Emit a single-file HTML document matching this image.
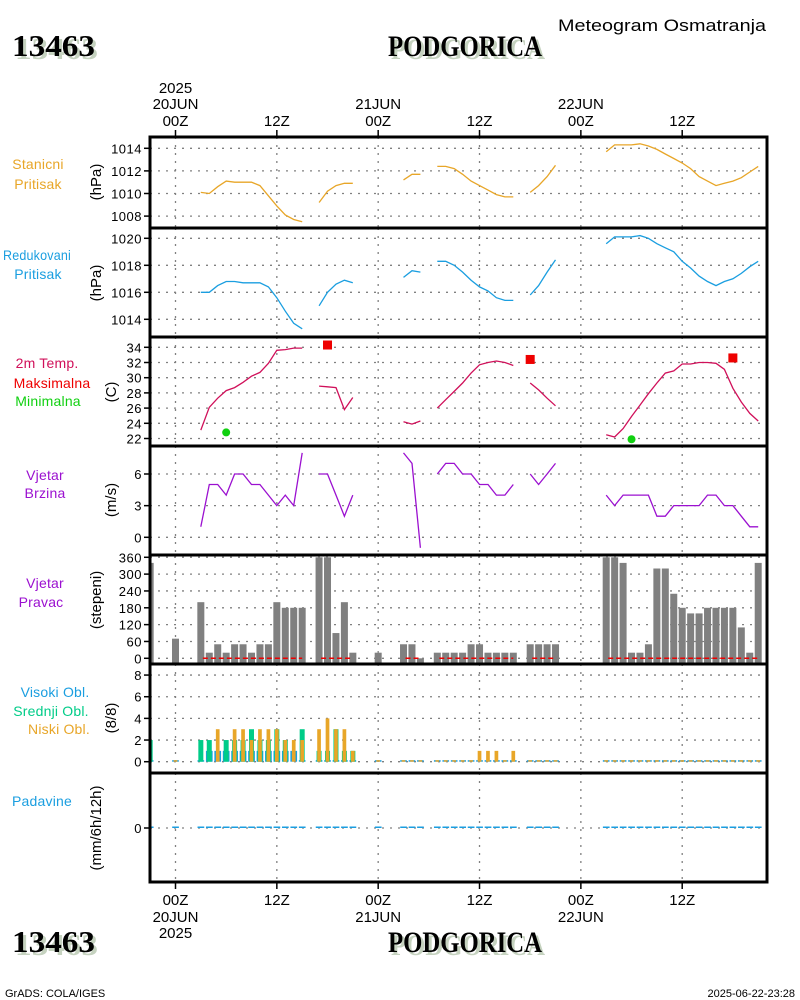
<!DOCTYPE html>
<html><head><meta charset="utf-8"><style>
html,body{margin:0;padding:0;background:#fff;}
svg{display:block;font-family:"Liberation Sans",sans-serif;}
</style></head><body>
<svg id="chart" width="800" height="1000" viewBox="0 0 800 1000" xmlns="http://www.w3.org/2000/svg"></svg>
<script>
// ---- data ----
const hours = [-3,0,3,4,5,6,7,8,9,10,11,12,13,14,15,17,18,19,20,21,24,27,28,29,31,32,33,34,35,36,37,38,39,40,42,43,44,45,51,52,53,54,55,56,57,58,59,60,61,62,63,64,65,66,67,68,69];
const stationP = [null,null,1010.1,1010.0,1010.6,1011.1,1011.0,1011.0,1011.0,1010.7,1009.8,1008.9,1008.1,1007.7,1007.5,1009.2,1010.2,1010.7,1010.9,1010.9,null,1011.2,1011.7,1011.7,1012.4,1012.4,1012.2,1011.7,1011.1,1010.7,1010.3,1009.9,1009.7,1009.7,1010.1,1010.7,1011.5,1012.5,1013.7,1014.3,1014.3,1014.3,1014.4,1014.2,1013.9,1013.5,1013.1,1012.7,1012.2,1011.5,1011.1,1010.7,1010.9,1011.1,1011.4,1011.9,1012.4];
const reducedP = [null,null,1016.0,1016.0,1016.5,1016.8,1016.8,1016.7,1016.7,1016.7,1016.4,1015.6,1014.6,1013.7,1013.3,1015.0,1016.0,1016.6,1016.9,1016.7,null,1017.1,1017.6,1017.5,1018.3,1018.3,1018.0,1017.5,1016.9,1016.4,1016.1,1015.6,1015.4,1015.4,1015.8,1016.5,1017.5,1018.4,1019.6,1020.1,1020.1,1020.1,1020.2,1020.0,1019.6,1019.3,1019.0,1018.3,1017.8,1017.2,1016.8,1016.5,1016.8,1017.0,1017.4,1017.9,1018.3];
const temp = [null,null,23.1,26.1,27.3,28.3,28.7,29.4,30.2,30.7,31.9,33.6,33.7,33.9,33.9,28.9,28.8,28.7,25.8,27.4,null,24.2,23.9,24.3,26.0,27.1,28.2,29.3,30.6,31.7,32.0,32.2,32.0,31.6,29.3,28.4,27.3,26.3,22.5,22.2,23.3,24.9,26.4,27.9,29.3,30.6,30.9,31.8,31.8,32.0,32.0,31.9,31.1,28.6,26.8,25.3,24.3];
const maxHours = [18,42,66];
const maxVals = [34.3,32.4,32.6];
const minHours = [6,54];
const minVals = [22.8,21.9];
const windSpd = [null,null,1,5,5,4,6,6,5,5,4,3,4,3,8,6,6,4,2,4,null,8,7,-1,6,7,7,6,6,5,5,4,4,5,6,5,6,7,4,3,4,4,4,4,2,2,3,3,3,3,4,4,3,3,2,1,1];
const windDir = [340,70,200,20,50,20,50,50,20,50,50,200,180,180,180,360,360,90,200,20,20,50,50,0,20,20,20,20,50,50,20,20,20,20,50,50,50,50,360,360,340,20,20,50,320,320,230,180,160,160,180,180,180,180,110,20,340];
const cloudHigh = [0,0,0,1,1,1,1,1,1,1,1,1,1,1,0,0,0,0,0,0,0,0,0,0,0,0,0,0,0,0,0,0,0,0,0,0,0,0,0,0,0,0,0,0,0,0,0,0,0,0,0,0,0,0,0,0,0];
const cloudMid = [2,0,2,2,0,2,2,2,3,2,2,3,2,0,3,1,1,3,1,1,0,0,0,0,0,0,0,0,0,0,0,0,0,0,0,0,0,0,0,0,0,0,0,0,0,0,0,0,0,0,0,0,0,0,0,0,0];
const cloudLow = [0,0,0,0,3,0,3,3,2,3,3,3,2,2,2,3,4,3,3,1,0,0,0,0,0,0,0,0,0,1,1,1,0,1,0,0,0,0,0,0,0,0,0,0,0,0,0,0,0,0,0,0,0,0,0,0,0];
const precip = [0,0,0,0,0,0,0,0,0,0,0,0,0,0,0,0,0,0,0,0,0,0,0,0,0,0,0,0,0,0,0,0,0,0,0,0,0,0,0,0,0,0,0,0,0,0,0,0,0,0,0,0,0,0,0,0,0];
const ticksP1 = [1008,1010,1012,1014];
const ticksP2 = [1014,1016,1018,1020];
const ticksT = [22,24,26,28,30,32,34];
const ticksW = [0,3,6];
const ticksD = [0,60,120,180,240,300,360];
const ticksC = [0,2,4,6,8];
const ticksR = [0];
const timeTicks = [0,12,24,36,48,60];
const timeLabels = ["00Z","12Z","00Z","12Z","00Z","12Z"];
const dayLabels = ["20JUN","","21JUN","","22JUN",""];

// ---- scales ----
const L=150,R=767;
const x = t => 175.5 + t*8.445;
const P = {
 p1:{top:137,bot:228,y:v=>148.3+(1014-v)*11.3},
 p2:{top:228,bot:337,y:v=>238.3+(1020-v)*13.5},
 t:{top:337,bot:446,y:v=>347.3+(34-v)*7.6},
 w:{top:446,bot:555,y:v=>537.3-v*10.55},
 d:{top:555,bot:664,y:v=>658.3-v*0.2806},
 c:{top:664,bot:773,y:v=>761.7-v*10.83},
 r:{top:773,bot:882,y:v=>828-v*20}
};
const NS="http://www.w3.org/2000/svg";
const svg=document.getElementById('chart');
function el(tag,attrs,parent){const e=document.createElementNS(NS,tag);for(const k in attrs)e.setAttribute(k,attrs[k]);(parent||svg).appendChild(e);return e;}
function txt(s,xx,yy,attrs,parent){const e=el('text',Object.assign({x:xx,y:yy},attrs),parent);e.textContent=s;return e;}

const defs=el('defs',{});
for(const k in P){const cp=el('clipPath',{id:'clip-'+k},defs);el('rect',{x:L,y:P[k].top,width:R-L,height:P[k].bot-P[k].top},cp);}

function panelAxis(key,ticks,name){
  const p=P[key];
  const g=el('g',{});
  
  
  ticks.forEach(v=>{
    const yy=p.y(v);
    el('line',{x1:L,x2:R,y1:yy,y2:yy,stroke:'#808080','stroke-width':1.3,'stroke-dasharray':'2,6'},g);
    el('line',{x1:L-6,x2:L,y1:yy,y2:yy,stroke:'#000','stroke-width':1.5},g);
    const t=txt(String(v),L-8,yy+5,{'text-anchor':'end','font-size':13,fill:'#000','letter-spacing':'0.5'},g);
    
    
  });
  timeTicks.forEach(tt=>{
    el('line',{x1:x(tt),x2:x(tt),y1:p.top,y2:p.bot,stroke:'#808080','stroke-width':1.3,'stroke-dasharray':'2,6'},g);
  });
}
panelAxis('p1',ticksP1,'station-pressure');
panelAxis('p2',ticksP2,'reduced-pressure');
panelAxis('t',ticksT,'temperature');
panelAxis('w',ticksW,'wind-speed');
panelAxis('d',ticksD,'wind-direction');
panelAxis('c',ticksC,'cloud-cover');
panelAxis('r',ticksR,'precipitation');

function series(key,vals,color,name){
  const p=P[key];
  const g=el('g',{'clip-path':'url(#clip-'+key+')'});
  
  
  let seg=[];
  const flush=()=>{ if(seg.length>1){ el('polyline',{points:seg.join(' '),fill:'none',stroke:color,'stroke-width':1.3},g);} seg=[]; };
  for(let i=0;i<hours.length;i++){
    if(vals[i]==null){flush();continue;}
    if(i>0 && seg.length && hours[i]-hours[i-1]!==1) flush();
    seg.push(x(hours[i]).toFixed(1)+','+p.y(vals[i]).toFixed(1));
  }
  flush();
}
series('p1',stationP,'#e8a628','station-pressure-line');
series('p2',reducedP,'#1a9ee0','reduced-pressure-line');
series('t',temp,'#d0105a','temperature-line');
series('w',windSpd,'#9b10d0','wind-speed-line');

maxHours.forEach((h,i)=>{
  const r=el('rect',{x:x(h)-4.5,y:P.t.y(maxVals[i])-4.5,width:9,height:9,fill:'#ee0000'});
  
  
});
minHours.forEach((h,i)=>{
  const c=el('circle',{cx:x(h),cy:P.t.y(minVals[i]),r:4,fill:'#10d010'});
  
  
});

const gd=el('g',{'clip-path':'url(#clip-d)'});


hours.forEach((h,i)=>{
  const yy=P.d.y(windDir[i]);
  const b=el('rect',{x:x(h)-3.5,y:yy,width:7,height:P.d.bot-yy,fill:'#808080'},gd);
  
  
});
(function(){
  let seg=[];
  const flush=()=>{ if(seg.length>1){ el('line',{x1:x(seg[0])+2,x2:x(seg[seg.length-1]),y1:P.d.y(0),y2:P.d.y(0),stroke:'#ee0000','stroke-width':1.5,'stroke-dasharray':'5,3'},gd);} seg=[]; };
  for(let i=0;i<hours.length;i++){
    if(windSpd[i]==null){flush();continue;}
    if(seg.length && hours[i]-seg[seg.length-1]!==1) flush();
    seg.push(hours[i]);
  }
  flush();
})();

const gc=el('g',{'clip-path':'url(#clip-c)'});


function cbar(h,v,w,color,name){
  const y0=P.c.y(0);
  const hh=v>0? y0-P.c.y(v) : 1.5;
  const b=el('rect',{x:x(h)-w/2,y:y0-hh,width:w,height:hh,fill:color},gc);
  
  
}
hours.forEach((h,i)=>{
  cbar(h,cloudHigh[i],6.7,'#1a9ee0','high-cloud-bar');
  if(cloudMid[i]>0) cbar(h,cloudMid[i],5,'#00cc88','mid-cloud-bar');
  if(cloudLow[i]>0 || cloudMid[i]===0) cbar(h,cloudLow[i],3.7,'#e8a628','low-cloud-bar');
});
const gr=el('g',{'clip-path':'url(#clip-r)'});


hours.forEach((h,i)=>{
  const y0=P.r.y(0);
  const hh=precip[i]>0? y0-P.r.y(precip[i]):1.5;
  const b=el('rect',{x:x(h)-3.3,y:y0-hh,width:6.7,height:hh,fill:'#1a9ee0'},gr);
  
  
});

[228,337,446,555,664,773].forEach(yy=>el('line',{x1:L,x2:R,y1:yy,y2:yy,stroke:'#000','stroke-width':3}));
const fr=el('rect',{x:L,y:137,width:R-L,height:882-137,fill:'none',stroke:'#000','stroke-width':3});



timeTicks.forEach((tt,i)=>{
  el('line',{x1:x(tt),x2:x(tt),y1:130,y2:137,stroke:'#000','stroke-width':1.5});
  el('line',{x1:x(tt),x2:x(tt),y1:882,y2:889,stroke:'#000','stroke-width':1.5});
  const a=txt(timeLabels[i],x(tt),126,{'text-anchor':'middle','font-size':15,fill:'#000'});
  
  
  const b=txt(timeLabels[i],x(tt),905,{'text-anchor':'middle','font-size':15,fill:'#000'});
  
  
  if(dayLabels[i]){
    const c=txt(dayLabels[i],x(tt),109,{'text-anchor':'middle','font-size':15,fill:'#000'});
    
    
    const d=txt(dayLabels[i],x(tt),922,{'text-anchor':'middle','font-size':15,fill:'#000'});
    
    
  }
});
</script>
<script>
const S=document.getElementById('chart');
S.insertAdjacentHTML('beforeend',`
<text x="175.5" y="93" text-anchor="middle" font-size="15">2025</text>
<text x="175.5" y="938" text-anchor="middle" font-size="15">2025</text>
<g font-family="Liberation Serif, serif" font-weight="bold">
 <text x="15" y="59" font-size="31" fill="#c5d2bf" textLength="83" lengthAdjust="spacingAndGlyphs">13463</text>
 <text x="12" y="56" font-size="31" fill="#000" textLength="83" lengthAdjust="spacingAndGlyphs">13463</text>
 <text x="391" y="59" font-size="30" fill="#c5d2bf" textLength="154" lengthAdjust="spacingAndGlyphs">PODGORICA</text>
 <text x="388" y="56" font-size="30" fill="#000" textLength="154" lengthAdjust="spacingAndGlyphs">PODGORICA</text>
 <text x="15" y="955" font-size="31" fill="#c5d2bf" textLength="83" lengthAdjust="spacingAndGlyphs">13463</text>
 <text x="12" y="952" font-size="31" fill="#000" textLength="83" lengthAdjust="spacingAndGlyphs">13463</text>
 <text x="391" y="955" font-size="30" fill="#c5d2bf" textLength="154" lengthAdjust="spacingAndGlyphs">PODGORICA</text>
 <text x="388" y="952" font-size="30" fill="#000" textLength="154" lengthAdjust="spacingAndGlyphs">PODGORICA</text>
</g>
<text x="558" y="31" font-size="17" textLength="208" lengthAdjust="spacingAndGlyphs">Meteogram Osmatranja</text>
<text x="5" y="997" font-size="11">GrADS: COLA/IGES</text>
<text x="795" y="997" font-size="11" text-anchor="end">2025-06-22-23:28</text>
<g font-size="14" text-anchor="middle" letter-spacing="0.2">
 <text x="38" y="169" fill="#e8a628">Stanicni</text>
 <text x="38" y="189" fill="#e8a628">Pritisak</text>
 <text x="37" y="260" fill="#1a9ee0" textLength="68" lengthAdjust="spacingAndGlyphs">Redukovani</text>
 <text x="38" y="279" fill="#1a9ee0">Pritisak</text>
 <text x="47" y="368" fill="#d0105a">2m Temp.</text>
 <text x="52" y="388" fill="#ee0000">Maksimalna</text>
 <text x="48" y="406" fill="#10d010">Minimalna</text>
 <text x="45" y="480" fill="#9b10d0">Vjetar</text>
 <text x="45" y="498" fill="#9b10d0">Brzina</text>
 <text x="45" y="588" fill="#9b10d0">Vjetar</text>
 <text x="41" y="607" fill="#9b10d0">Pravac</text>
 <text x="55" y="697" fill="#1a9ee0">Visoki Obl.</text>
 <text x="51" y="716" fill="#00cc88">Srednji Obl.</text>
 <text x="59" y="734" fill="#e8a628">Niski Obl.</text>
 <text x="42" y="806" fill="#1a9ee0">Padavine</text>
</g>
<g font-size="15" text-anchor="middle">
 <text transform="translate(101,182) rotate(-90)">(hPa)</text>
 <text transform="translate(101,283) rotate(-90)">(hPa)</text>
 <text transform="translate(116,392) rotate(-90)">(C)</text>
 <text transform="translate(116,500) rotate(-90)">(m/s)</text>
 <text transform="translate(101,600) rotate(-90)">(stepeni)</text>
 <text transform="translate(116,718) rotate(-90)">(8/8)</text>
 <text transform="translate(101,828) rotate(-90)">(mm/6h/12h)</text>
</g>`);
</script>
</body></html>
